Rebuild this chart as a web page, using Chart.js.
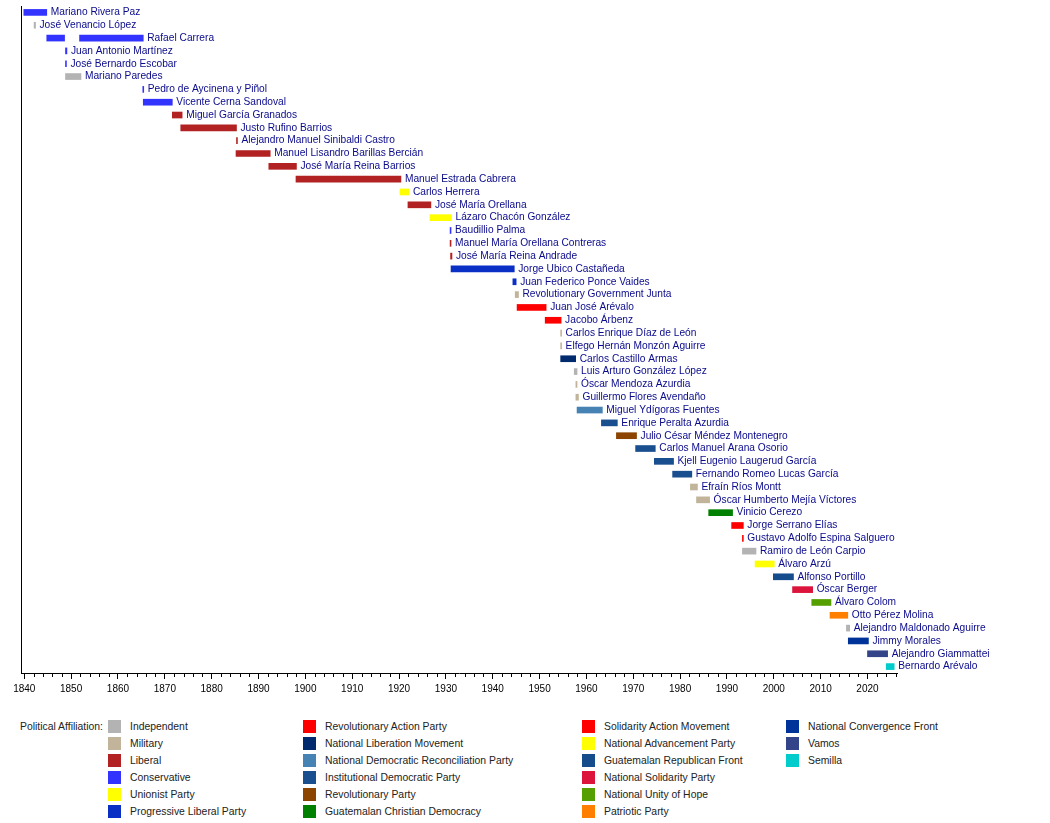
<!DOCTYPE html>
<html>
<head>
<meta charset="utf-8">
<script src="https://cdn.jsdelivr.net/npm/chart.js@4.4.1/dist/chart.umd.min.js"></script>
<style>
  body { margin: 0; background: #fff; font-family: "Liberation Sans", Arial, sans-serif; }
  #wrap { position: relative; width: 1050px; height: 823px; }
  #chart { position: absolute; left: 0; top: 0; }
  .leg { position: absolute; font-size: 10.4px; color: #222; white-space: nowrap; line-height: 13px; }
  .sw { position: absolute; width: 13px; height: 13px; }
</style>
</head>
<body>
<div id="wrap">
  <canvas id="chart" width="1050" height="701"></canvas>
  <div id="legend"></div>
</div>
<script>
// Presidents, one row each (top to bottom)
const names = [
  "Mariano Rivera Paz", "José Venancio López", "Rafael Carrera", "Juan Antonio Martínez",
  "José Bernardo Escobar", "Mariano Paredes", "Pedro de Aycinena y Piñol", "Vicente Cerna Sandoval",
  "Miguel García Granados", "Justo Rufino Barrios", "Alejandro Manuel Sinibaldi Castro",
  "Manuel Lisandro Barillas Bercián", "José María Reina Barrios", "Manuel Estrada Cabrera",
  "Carlos Herrera", "José María Orellana", "Lázaro Chacón González", "Baudillio Palma",
  "Manuel María Orellana Contreras", "José María Reina Andrade", "Jorge Ubico Castañeda",
  "Juan Federico Ponce Vaides", "Revolutionary Government Junta", "Juan José Arévalo",
  "Jacobo Árbenz", "Carlos Enrique Díaz de León", "Elfego Hernán Monzón Aguirre",
  "Carlos Castillo Armas", "Luis Arturo González López", "Óscar Mendoza Azurdia",
  "Guillermo Flores Avendaño", "Miguel Ydígoras Fuentes", "Enrique Peralta Azurdia",
  "Julio César Méndez Montenegro", "Carlos Manuel Arana Osorio", "Kjell Eugenio Laugerud García",
  "Fernando Romeo Lucas García", "Efraín Ríos Montt", "Óscar Humberto Mejía Víctores",
  "Vinicio Cerezo", "Jorge Serrano Elías", "Gustavo Adolfo Espina Salguero",
  "Ramiro de León Carpio", "Álvaro Arzú", "Alfonso Portillo", "Óscar Berger", "Álvaro Colom",
  "Otto Pérez Molina", "Alejandro Maldonado Aguirre", "Jimmy Morales", "Alejandro Giammattei",
  "Bernardo Arévalo"
];
const starts = [
  1839.9, 1842.1, 1844.8, 1848.8, 1848.8, 1848.8, 1865.3, 1865.4,
  1871.6, 1873.4, 1885.3, 1885.2, 1892.2, 1898.0,
  1920.2, 1921.9, 1926.6, 1930.9, 1930.9, 1931.0, 1931.1,
  1944.3, 1944.8, 1945.2, 1951.2, 1954.5, 1954.5,
  1954.5, 1957.4, 1957.75, 1957.75, 1958.0, 1963.2,
  1966.4, 1970.5, 1974.5, 1978.4, 1982.2, 1983.5,
  1986.1, 1991.0, 1993.3, 1993.3, 1996.0, 1999.9, 2004.0, 2008.1,
  2012.0, 2015.5, 2015.9, 2020.0, 2024.0
];
const ends = [
  1844.8, 1842.4, 1848.6, 1849.1, 1849.0, 1852.1, 1865.5, 1871.6,
  1873.7, 1885.3, 1885.5, 1892.5, 1898.1, 1920.4,
  1922.1, 1926.8, 1931.2, 1931.1, 1931.1, 1931.3, 1944.6,
  1945.0, 1945.5, 1951.4, 1954.6, 1954.7, 1954.7,
  1957.7, 1958.0, 1958.0, 1958.3, 1963.4, 1966.6,
  1970.7, 1974.7, 1978.6, 1982.5, 1983.7, 1986.3,
  1991.2, 1993.5, 1993.5, 1996.2, 2000.1, 2004.2, 2008.3, 2012.2,
  2015.8, 2016.2, 2020.2, 2024.3, 2025.7
];
const parties = [
  3, 0, 3, 3, 3, 0, 3, 3,
  2, 2, 2, 2, 2, 2,
  4, 2, 4, 3, 2, 2, 5,
  5, 1, 6, 6, 1, 1,
  7, 0, 1, 1, 8, 9,
  10, 9, 9, 9, 1, 1,
  11, 12, 12, 0, 13, 14, 15, 16,
  17, 0, 18, 19, 20
];
// second term of Rafael Carrera
const extraRows = [2];
const extraStarts = [1851.8];
const extraEnds = [1865.4];

const partyNames = [
  "Independent", "Military", "Liberal", "Conservative", "Unionist Party", "Progressive Liberal Party",
  "Revolutionary Action Party", "National Liberation Movement", "National Democratic Reconciliation Party",
  "Institutional Democratic Party", "Revolutionary Party", "Guatemalan Christian Democracy",
  "Solidarity Action Movement", "National Advancement Party", "Guatemalan Republican Front",
  "National Solidarity Party", "National Unity of Hope", "Patriotic Party",
  "National Convergence Front", "Vamos", "Semilla"
];
const partyColors = [
  "#b3b3b3", "#c2b49a", "#b22222", "#3333ff", "#ffff00", "#0a2fc4",
  "#ff0000", "#002a6e", "#4682b4", "#1a4f8f", "#8b4500", "#008000",
  "#ff0000", "#ffff00", "#154c8c", "#dc143c", "#55a000", "#ff8000",
  "#003399", "#334488", "#00cccc"
];

const xMin = 1839.3;
const xMax = 2026.3;
const majorStep = 10;
const minorStep = 2;

// names written after the last bar of each row
const rowLabels = {
  id: "rowLabels",
  afterDatasetsDraw(chart) {
    const ctx = chart.ctx;
    ctx.save();
    ctx.font = "10.2px 'Liberation Sans', Arial, sans-serif";
    ctx.fillStyle = "#0a0a8c";
    ctx.textBaseline = "middle";
    names.forEach((n, i) => {
      let right = -1, y = 0;
      chart.data.datasets.forEach((d, di) => {
        const el = chart.getDatasetMeta(di).data[i];
        if (el && d.data[i]) {
          right = Math.max(right, el.x, el.base);
          y = el.y;
        }
      });
      ctx.fillText(n, right + 4, y);
    });
    ctx.restore();
  }
};

// small ticks every 2 years
const minorTicks = {
  id: "minorTicks",
  afterDraw(chart) {
    const sx = chart.scales.x;
    const ctx = chart.ctx;
    const y0 = chart.chartArea.bottom;
    ctx.save();
    ctx.strokeStyle = "#000";
    ctx.lineWidth = 1;
    ctx.beginPath();
    for (let v = Math.ceil(xMin / minorStep) * minorStep; v <= xMax; v += minorStep) {
      if (v % majorStep === 0) continue;
      const px = Math.round(sx.getPixelForValue(v)) + 0.5;
      ctx.moveTo(px, y0);
      ctx.lineTo(px, y0 + 4);
    }
    ctx.stroke();
    ctx.restore();
  }
};

const ctxChart = document.getElementById("chart").getContext("2d");
const timeline = new Chart(ctxChart, {
  type: "bar",
  data: {
    labels: names,
    datasets: [{
      data: starts.map((s, i) => [s, ends[i]]),
      backgroundColor: parties.map(p => partyColors[p]),
      barThickness: 6,
      grouped: false
    }, {
      data: names.map((_, i) => {
        const k = extraRows.indexOf(i);
        return k >= 0 ? [extraStarts[k], extraEnds[k]] : null;
      }),
      backgroundColor: names.map((_, i) => partyColors[parties[i]]),
      barThickness: 6,
      grouped: false
    }]
  },
  options: {
    indexAxis: "y",
    responsive: false,
    animation: false,
    layout: { padding: { left: 21, right: 153, top: 6, bottom: 2 } },
    plugins: { legend: { display: false }, tooltip: { enabled: false } },
    scales: {
      x: {
        type: "linear",
        min: xMin,
        max: xMax,
        afterBuildTicks: scale => {
          const t = [];
          for (let v = Math.ceil(xMin / majorStep) * majorStep; v <= xMax; v += majorStep) t.push({ value: v });
          scale.ticks = t;
        },
        ticks: {
          autoSkip: false,
          maxRotation: 0,
          padding: 4,
          color: "#000",
          font: { size: 10, family: "'Liberation Sans', Arial, sans-serif" },
          callback: v => String(v)
        },
        grid: { drawOnChartArea: false, drawTicks: true, tickLength: 6, color: "#000" },
        border: { display: true, color: "#000" }
      },
      y: {
        type: "category",
        afterFit: s => { s.width = 0; },
        ticks: { display: false },
        grid: { display: false },
        border: { display: true, color: "#000" }
      }
    }
  },
  plugins: [rowLabels, minorTicks]
});

// legend
const legend = document.getElementById("legend");
const colX = [108, 303, 582, 786];
const legTop = 720;
const head = document.createElement("div");
head.className = "leg";
head.style.left = "20px";
head.style.top = legTop + "px";
head.textContent = "Political Affiliation:";
legend.appendChild(head);
partyNames.forEach((p, i) => {
  const c = Math.floor(i / 6), r = i % 6;
  const sw = document.createElement("div");
  sw.className = "sw";
  sw.style.left = colX[c] + "px";
  sw.style.top = (legTop + r * 17) + "px";
  sw.style.background = partyColors[i];
  legend.appendChild(sw);
  const t = document.createElement("div");
  t.className = "leg";
  t.style.left = (colX[c] + 22) + "px";
  t.style.top = (legTop + r * 17) + "px";
  t.textContent = p;
  legend.appendChild(t);
});
</script>
</body>
</html>
